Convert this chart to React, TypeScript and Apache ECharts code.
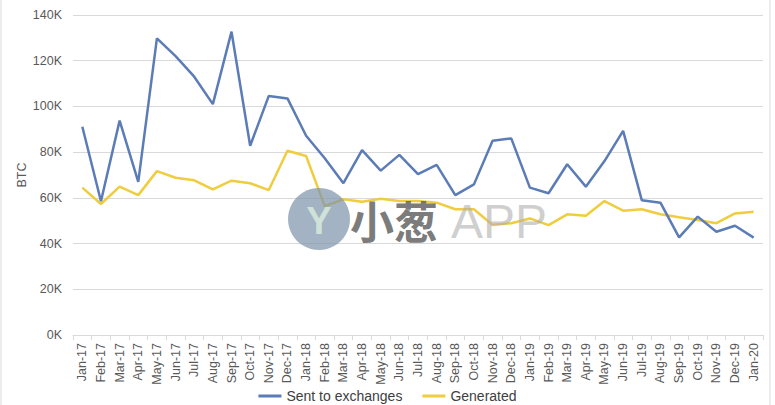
import React, { useEffect, useRef } from "react";
import * as echarts from "echarts";

const categories = [
  "Jan-17", "Feb-17", "Mar-17", "Apr-17", "May-17", "Jun-17", "Jul-17", "Aug-17", "Sep-17", "Oct-17", "Nov-17", "Dec-17",
  "Jan-18", "Feb-18", "Mar-18", "Apr-18", "May-18", "Jun-18", "Jul-18", "Aug-18", "Sep-18", "Oct-18", "Nov-18", "Dec-18",
  "Jan-19", "Feb-19", "Mar-19", "Apr-19", "May-19", "Jun-19", "Jul-19", "Aug-19", "Sep-19", "Oct-19", "Nov-19", "Dec-19",
  "Jan-20",
];

const sentToExchanges = [
  91.1, 58.5, 93.8, 67, 129.8, 122, 113, 101, 132.7, 82.8, 104.6, 103.5,
  87.2, 77.3, 66.4, 80.9, 71.9, 78.8, 70.4, 74.4, 61.2, 65.9, 85, 86,
  64.5, 62, 74.7, 64.9, 76.1, 89.3, 59, 57.9, 42.7, 51.8, 45.2, 47.8,
  42.6,
].map((v) => v * 1000);

const generated = [
  64.5, 57.3, 64.9, 61.2, 71.7, 68.8, 67.7, 63.7, 67.5, 66.4, 63.4, 80.6,
  78.3, 56.4, 59.4, 58.3, 59.6, 58.6, 58.6, 57.9, 55, 55, 48.1, 48.9,
  51, 48.1, 52.8, 52.2, 58.6, 54.4, 55, 52.8, 51.5, 50.3, 48.9, 53.2,
  53.9,
].map((v) => v * 1000);

const seriesNames = ["Sent to exchanges", "Generated"];
const FONT = "Liberation Sans, Arial, sans-serif";

export default function App() {
  const ref = useRef<HTMLDivElement>(null);
  useEffect(() => {
    if (!ref.current) return;
    const chart = echarts.init(ref.current, null, { renderer: "svg" });
    chart.setOption({
      animation: false,
      backgroundColor: "#ffffff",
      textStyle: { fontFamily: FONT },
      grid: { left: 73, right: 12, top: 15, bottom: 70, containLabel: false },
      legend: {
        data: seriesNames,
        top: 389,
        left: "center",
        itemWidth: 23,
        itemHeight: 3,
        itemGap: 20,
        padding: 0,
        icon: "rect",
        textStyle: { fontSize: 14, color: "#404040", fontFamily: FONT },
      },
      xAxis: {
        type: "category",
        data: categories,
        boundaryGap: true,
        axisLine: { lineStyle: { color: "#d9d9d9", width: 1 } },
        axisTick: { show: true, length: 5, lineStyle: { color: "#d9d9d9" } },
        axisLabel: {
          interval: 0,
          rotate: 90,
          margin: 8,
          fontSize: 12.5,
          color: "#595959",
          fontFamily: FONT,
        },
      },
      yAxis: {
        type: "value",
        min: 0,
        max: 140000,
        interval: 20000,
        name: "BTC",
        nameLocation: "middle",
        nameGap: 45,
        nameMoveOverlap: false,
        nameTextStyle: { fontSize: 12.5, color: "#595959", fontFamily: FONT },
        axisLine: { show: false },
        axisTick: { show: false },
        splitLine: { lineStyle: { color: "#d9d9d9", width: 1 } },
        axisLabel: {
          margin: 11,
          fontSize: 12.5,
          color: "#595959",
          fontFamily: FONT,
          formatter: (v: number) => `${Math.round(v / 1000)}K`,
        },
      },
      series: [
        {
          name: seriesNames[0],
          type: "line",
          data: sentToExchanges,
          symbol: "none",
          color: "#5b7cb6",
          lineStyle: { width: 2.5, color: "#5b7cb6" },
          z: 3,
        },
        {
          name: seriesNames[1],
          type: "line",
          data: generated,
          symbol: "none",
          color: "#efcd3f",
          lineStyle: { width: 2.5, color: "#efcd3f" },
          z: 2,
        },
      ],
      graphic: [
        {
          type: "rect",
          shape: { x: 1, y: -5, width: 769, height: 420 },
          style: { fill: "none", stroke: "#d9d9d9", lineWidth: 1 },
          silent: true,
        },
        {
          type: "circle",
          shape: { cx: 319, cy: 219, r: 31 },
          style: { fill: "rgba(128,150,172,0.72)" },
          silent: true,
          z: 10,
        },
        {
          type: "text",
          x: 319,
          y: 221,
          style: {
            text: "Y",
            fill: "rgba(215,235,220,0.85)",
            font: "bold 38px Liberation Sans, Arial, sans-serif",
            align: "center",
            verticalAlign: "middle",
          },
          silent: true,
          z: 11,
        },
        {
          type: "text",
          x: 350,
          y: 220,
          style: {
            text: "小葱",
            fill: "rgba(100,100,100,0.85)",
            font: "bold 44px Noto Sans CJK SC, sans-serif",
            verticalAlign: "middle",
          },
          silent: true,
          z: 10,
        },
        {
          type: "text",
          x: 451,
          y: 221,
          style: {
            text: "APP",
            fill: "rgba(175,175,175,0.6)",
            font: "48px Liberation Sans, Arial, sans-serif",
            verticalAlign: "middle",
          },
          silent: true,
          z: 10,
        },
      ],
    });
    return () => chart.dispose();
  }, []);
  return (
    <div
      ref={ref}
      style={{ position: "absolute", left: 0, top: 0, width: 775, height: 405 }}
    />
  );
}
